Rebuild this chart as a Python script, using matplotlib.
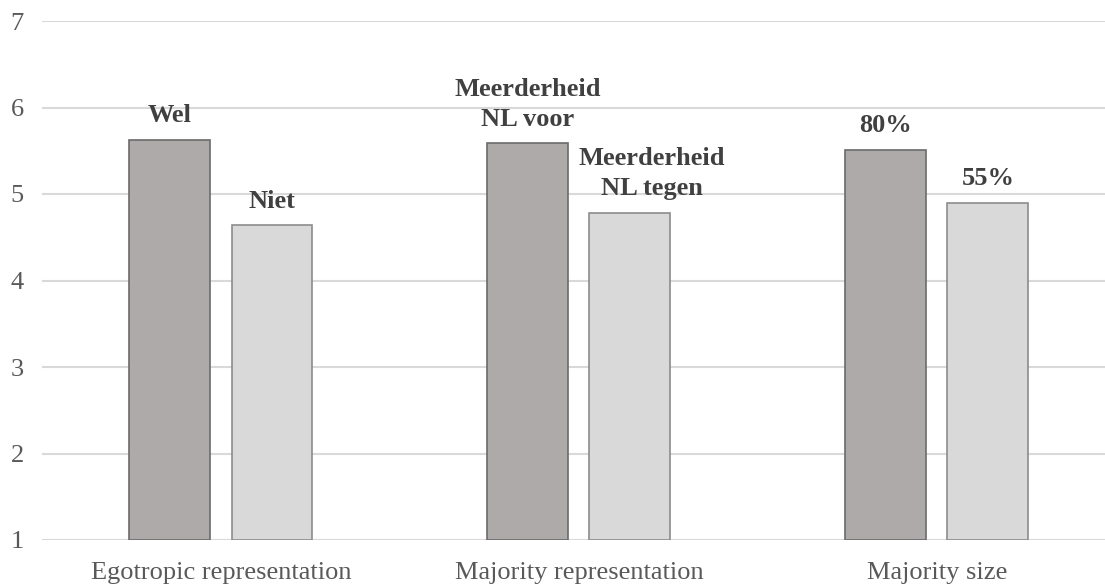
import numpy as np
import matplotlib
matplotlib.use("Agg")
import matplotlib.pyplot as plt

# Waarden
categories = ["Egotropic representation", "Majority representation", "Majority size"]
high_vals = [5.63, 5.585, 5.51]
low_vals = [4.64, 4.785, 4.90]
high_labels = ["Wel", "Meerderheid\nNL voor", "80%"]
low_labels = ["Niet", "Meerderheid\nNL tegen", "55%"]
yticks = [1, 2, 3, 4, 5, 6, 7]

DARK, DARK_EDGE = "#AEAAAA", "#6B6B6B"
LIGHT, LIGHT_EDGE = "#D9D9D9", "#8C8C8C"
TXT = "#404040"
FS = 19

plt.rcParams["font.family"] = ["Liberation Serif", "DejaVu Serif"]

fig = plt.figure(figsize=(11.05, 5.88), dpi=100)
ax = fig.add_axes([42 / 1105, 48 / 588, 1063 / 1105, 519 / 588])

x = np.arange(len(categories))
w, off = 0.226, 0.1426
ax.bar(x - off, np.array(high_vals) - 1, w, bottom=1, color=DARK,
       edgecolor=DARK_EDGE, linewidth=1.2, zorder=3)
ax.bar(x + off, np.array(low_vals) - 1, w, bottom=1, color=LIGHT,
       edgecolor=LIGHT_EDGE, linewidth=1.2, zorder=3)

# labels boven de balken (tegen-label handmatig iets naar rechts, zoals origineel)
dx_low = [0, 16, 0]
for i in range(len(categories)):
    ax.annotate(high_labels[i], (x[i] - off, high_vals[i]), xytext=(0, 9),
                textcoords="offset points", ha="center", va="bottom",
                fontsize=FS, fontweight="bold", color=TXT, linespacing=1.38)
    ax.annotate(low_labels[i], (x[i] + off, low_vals[i]), xytext=(dx_low[i], 9),
                textcoords="offset points", ha="center", va="bottom",
                fontsize=FS, fontweight="bold", color=TXT, linespacing=1.38)

ax.set_xlim(-0.5, 2.5 - 0.03)
ax.set_ylim(1, 7)
ax.set_yticks(yticks)
ax.set_xticks(x)
ax.set_xticklabels(categories)
ax.tick_params(axis="both", length=0, labelsize=FS, labelcolor="#595959")
ax.tick_params(axis="y", pad=13)
ax.tick_params(axis="x", pad=16)
ax.grid(axis="y", color="#D9D9D9", linewidth=1.5, zorder=0)
for s in ax.spines.values():
    s.set_visible(False)

fig.savefig("out.png", dpi=100)
